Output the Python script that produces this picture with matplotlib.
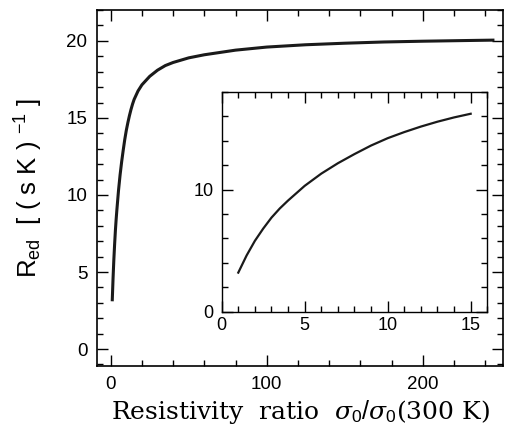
import numpy as np
import matplotlib
matplotlib.use("Agg")
import matplotlib.pyplot as plt
from matplotlib.ticker import MultipleLocator

# values (same curve in both panels)
ratio = [1, 1.5, 2, 2.5, 3, 3.5, 4, 4.5, 5, 6, 7, 8, 9, 10, 11, 12, 13, 14, 15,
         17.5, 20, 25, 30, 35, 40, 50, 60, 80, 100, 125, 150, 175, 200, 225, 245]
r_ed = [3.2, 4.6, 5.8, 6.8, 7.7, 8.45, 9.1, 9.7, 10.3, 11.3, 12.15, 12.9, 13.6, 14.2, 14.7, 15.15, 15.55, 15.9, 16.2,
        16.75, 17.15, 17.7, 18.1, 18.4, 18.6, 18.9, 19.1, 19.4, 19.6, 19.75, 19.85, 19.93, 19.98, 20.02, 20.05]
inset_ratio = ratio[:19]
inset_r = r_ed[:19]

plt.rcParams['mathtext.fontset'] = 'custom'
plt.rcParams['mathtext.rm'] = 'Liberation Sans'
plt.rcParams['mathtext.it'] = 'DejaVu Serif:italic'
plt.rcParams['mathtext.bf'] = 'DejaVu Serif:bold'
plt.rcParams['font.family'] = 'Liberation Sans'

fig = plt.figure(figsize=(5.14, 4.33), dpi=100)
ax = fig.add_axes([0.1887, 0.1547, 0.79, 0.822])
ax.plot(ratio, r_ed, color='#1a1a1a', lw=2.2)
ax.set_xlim(-8.8, 251.5)
ax.set_ylim(-1.1, 22)
ax.xaxis.set_major_locator(MultipleLocator(100))
ax.xaxis.set_minor_locator(MultipleLocator(20))
ax.yaxis.set_major_locator(MultipleLocator(5))
ax.yaxis.set_minor_locator(MultipleLocator(1))
ax.tick_params(which='both', direction='in', top=True, right=True, labelsize=13.5, width=1)
ax.tick_params(which='major', length=8)
ax.tick_params(which='minor', length=4)
ax.tick_params(axis='x', pad=7)
ax.tick_params(axis='y', pad=7)
for s in ax.spines.values():
    s.set_linewidth(1.2)
ax.set_xlabel(r'Resistivity  ratio  $\sigma_{0}/\sigma_{0}$(300 K)', family='DejaVu Serif', fontsize=18, labelpad=4)
ax.set_ylabel(r'R$_{\rm ed}$  [ ( s K ) $^{-1}$ ]', fontsize=18.5, labelpad=15)

ins = fig.add_axes([0.4313, 0.2801, 0.5167, 0.508])
ins.plot(inset_ratio, inset_r, color='#1a1a1a', lw=1.6)
ins.set_xlim(0, 16)
ins.set_ylim(0, 18)
ins.xaxis.set_major_locator(MultipleLocator(5))
ins.xaxis.set_minor_locator(MultipleLocator(1))
ins.yaxis.set_major_locator(MultipleLocator(10))
ins.yaxis.set_minor_locator(MultipleLocator(2))
ins.tick_params(which='both', direction='in', top=True, right=True, labelsize=13, width=1)
ins.tick_params(which='major', length=8)
ins.tick_params(which='minor', length=4)
ins.tick_params(axis='x', pad=4)
ins.tick_params(axis='y', pad=6)
for s in ins.spines.values():
    s.set_linewidth(1.0)

fig.savefig('out.png', dpi=100)
